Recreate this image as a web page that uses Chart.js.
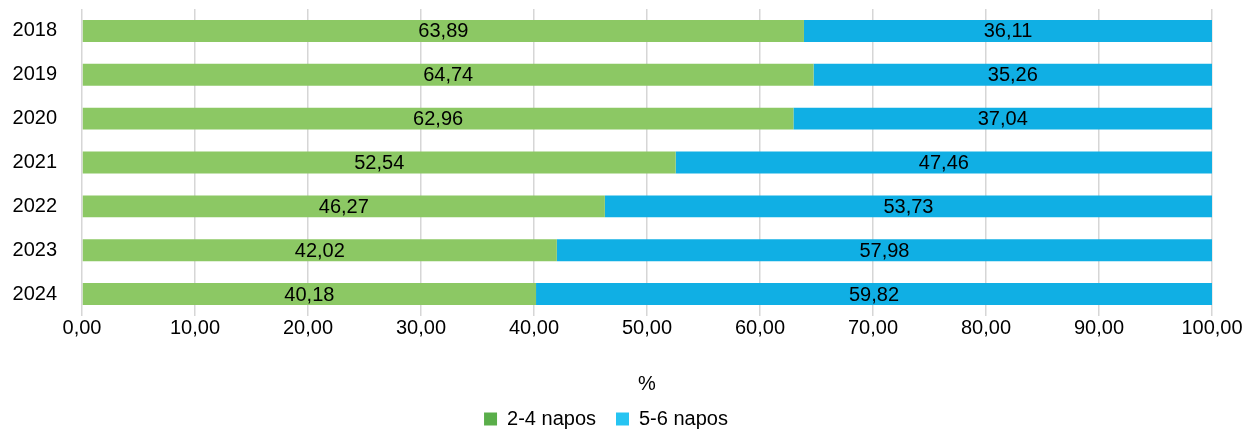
<!DOCTYPE html>
<html>
<head>
<meta charset="utf-8">
<script src="https://cdn.jsdelivr.net/npm/chart.js@4/dist/chart.umd.min.js"></script>
<style>
    html, body { margin: 0; padding: 0; background: #fff; }
    #wrap { width: 1260px; height: 431px; position: relative; }
</style>
</head>
<body>
<div id="wrap"><canvas id="chart"></canvas></div>
<script>
const years = ['2018', '2019', '2020', '2021', '2022', '2023', '2024'];
const shortStay = [63.89, 64.74, 62.96, 52.54, 46.27, 42.02, 40.18];
const longStay = [36.11, 35.26, 37.04, 47.46, 53.73, 57.98, 59.82];
const seriesNames = ['2-4 napos', '5-6 napos'];
const xTicks = [0, 10, 20, 30, 40, 50, 60, 70, 80, 90, 100];

const FONT = '"Liberation Sans", Arial, Helvetica, sans-serif';
const SIZE = 20;
const barColors = ['#8cc864', '#10afe4'];
const legendColors = ['#5aae4a', '#26c4f2'];

const fmt = v => v.toFixed(2).replace('.', ',');

// value labels centered in each bar segment
const valueLabels = {
    id: 'valueLabels',
    afterDatasetsDraw(chart) {
        const ctx = chart.ctx;
        ctx.save();
        ctx.font = SIZE + 'px ' + FONT;
        ctx.fillStyle = '#000';
        ctx.textAlign = 'center';
        ctx.textBaseline = 'middle';
        chart.data.datasets.forEach((ds, i) => {
            chart.getDatasetMeta(i).data.forEach((bar, j) => {
                const x = (bar.x + bar.base) / 2;
                ctx.fillText(fmt(ds.data[j]), x, bar.y + 1);
            });
        });
        ctx.restore();
    }
};

new Chart(document.getElementById('chart'), {
    type: 'bar',
    data: {
        labels: years,
        datasets: [
            { label: seriesNames[0], data: shortStay, backgroundColor: barColors[0] },
            { label: seriesNames[1], data: longStay, backgroundColor: barColors[1] }
        ]
    },
    options: {
        indexAxis: 'y',
        responsive: true,
        maintainAspectRatio: false,
        animation: false,
        layout: { padding: { top: 9, right: 48, bottom: -8, left: 0 } },
        datasets: { bar: { categoryPercentage: 1, barPercentage: 0.5 } },
        scales: {
            x: {
                stacked: true,
                min: 0,
                max: 100,
                afterBuildTicks: scale => { scale.ticks = xTicks.map(v => ({ value: v })); },
                ticks: {
                    color: '#000',
                    font: { family: FONT, size: SIZE },
                    padding: 0,
                    maxRotation: 0,
                    callback: v => fmt(v)
                },
                grid: { color: '#d6d6d6', lineWidth: 1.5, drawTicks: false },
                border: { display: false },
                title: {
                    display: true,
                    text: '%',
                    color: '#000',
                    font: { family: FONT, size: SIZE },
                    padding: { top: 0, bottom: -7 }
                },
                afterFit: scale => { scale.height = 73; }
            },
            y: {
                stacked: true,
                ticks: {
                    color: '#000',
                    font: { family: FONT, size: SIZE },
                    padding: 17
                },
                grid: { display: false },
                border: { display: false },
                afterFit: scale => {
                    scale.width = 82;
                    scale.paddingTop = 0;
                    scale.paddingBottom = 0;
                }
            }
        },
        plugins: {
            legend: {
                position: 'bottom',
                labels: {
                    color: '#000',
                    font: { family: FONT, size: SIZE },
                    boxWidth: 13,
                    boxHeight: 13,
                    padding: 20,
                    generateLabels: chart => chart.data.datasets.map((ds, i) => ({
                        text: ds.label,
                        fillStyle: legendColors[i],
                        strokeStyle: legendColors[i],
                        lineWidth: 0,
                        fontColor: '#000',
                        datasetIndex: i
                    }))
                }
            },
            tooltip: { enabled: false }
        }
    },
    plugins: [valueLabels]
});
</script>
</body>
</html>
